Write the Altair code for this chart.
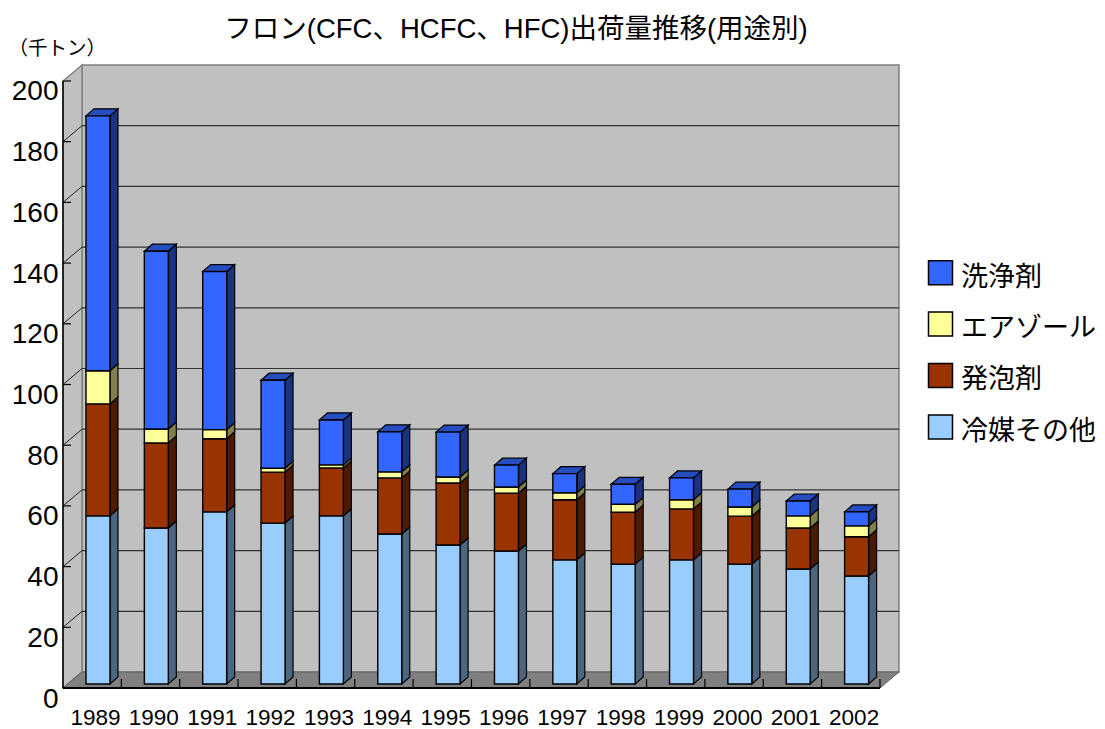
import altair as alt
import pandas as pd

years = ["1989","1990","1991","1992","1993","1994","1995","1996","1997","1998","1999","2000","2001","2002"]
series = ["冷媒その他", "発泡剤", "エアゾール", "洗浄剤"]
refrigerant = [55.4,51.4,56.7,53.0,55.4,49.4,45.8,43.8,40.9,39.5,40.9,39.5,37.9,35.6]
foam = [36.9,28.0,24.1,16.8,15.8,18.5,20.4,19.1,19.8,17.1,16.8,15.8,13.5,12.9]
aerosol = [10.9,4.6,3.0,1.3,1.0,2.0,2.0,2.0,2.3,2.6,3.0,3.0,4.0,3.6]
cleaning = [84.0,58.6,52.1,29.0,14.8,13.2,14.8,7.2,6.3,6.6,7.2,5.9,4.9,4.6]
values = [refrigerant, foam, aerosol, cleaning]
front_colors = ["#99CCFF", "#993300", "#FFFF99", "#3366FF"]
side_colors = ["#4D6680", "#4D1A00", "#80804D", "#1A3380"]
top_color = "#264DBF"
y_ticks = list(range(0, 201, 20))

# 3-D projection, in axis units
WALL_DX, WALL_DY = 0.326, 5.27
BAR_X0, BAR_W = 0.394, 0.411
BAR_DX, BAR_DY = 0.137, 2.3
BAR_BASE = 1.32
X_MAX, Y_MAX = 14 + WALL_DX, 205.27

FONT = "Liberation Sans, Noto Sans CJK JP"
xs = alt.Scale(domain=[0, X_MAX], nice=False, zero=False)
ys = alt.Scale(domain=[0, Y_MAX], nice=False, zero=False)
X = alt.X("x:Q", scale=xs, axis=None)
Y = alt.Y("y:Q", scale=ys, axis=None)
Y2 = alt.Y2("y2:Q")
X2 = alt.X2("x2:Q")

front, sides, tops = [], [], []
for i, year in enumerate(years):
    base = BAR_BASE
    x0 = i + BAR_X0
    for s, name in enumerate(series):
        v = values[s][i]
        front.append(dict(x=x0, x2=x0 + BAR_W, y=base, y2=base + v, series=name))
        for dx, dy in ((0, 0), (BAR_DX, BAR_DY)):
            sides.append(dict(x=x0 + BAR_W + dx, y=base + v + dy, y2=base + dy, seg=f"{year}-{s}", s=s))
        base += v
    for px, py, py2 in ((0, 0, 0), (BAR_DX, BAR_DY, 0), (BAR_W, BAR_DY, 0), (BAR_W + BAR_DX, BAR_DY, BAR_DY)):
        tops.append(dict(x=x0 + px, y=base + py, y2=base + py2, seg=year))
front, sides, tops = pd.DataFrame(front), pd.DataFrame(sides), pd.DataFrame(tops)

back_wall = pd.DataFrame([dict(x=WALL_DX, x2=X_MAX, y=WALL_DY, y2=Y_MAX)])
left_wall = pd.DataFrame([dict(x=0, y=200, y2=0), dict(x=WALL_DX, y=Y_MAX, y2=WALL_DY)])
floor = pd.DataFrame([dict(x=0, y=0, y2=0), dict(x=WALL_DX, y=WALL_DY, y2=0),
                      dict(x=14, y=WALL_DY, y2=0), dict(x=X_MAX, y=WALL_DY, y2=WALL_DY)])
grid = pd.DataFrame([dict(x=WALL_DX, x2=X_MAX, y=t + WALL_DY) for t in y_ticks[1:-1]])
diag = pd.DataFrame([r for t in y_ticks[1:-1] for r in
                     (dict(x=0, y=t, t=t), dict(x=WALL_DX, y=t + WALL_DY, t=t))])
ytick_df = pd.DataFrame([dict(x=0, x2=0.137, y=t) for t in y_ticks])
xtick_df = pd.DataFrame([dict(x=i, y=0, y2=3) for i in range(1, 15)])
axis_v = pd.DataFrame([dict(x=0, y=0, y2=200)])
axis_h = pd.DataFrame([dict(x=0, x2=14, y=0)])

label_lookup = "[" + ",".join(f"'{y}'" for y in years) + ",''][datum.value]"
axes_layer = alt.Chart(axis_h).mark_rule(color="black", strokeWidth=2).encode(
    x=alt.X("x:Q", scale=xs, axis=alt.Axis(
        values=list(range(15)), labelExpr=label_lookup, domain=False, ticks=False, grid=False,
        labelFontSize=22.5, labelFont=FONT, labelColor="black", labelPadding=18, labelOffset=32,
        labelOverlap=False, labelFlush=False, title=None)),
    x2=X2,
    y=alt.Y("y:Q", scale=ys, axis=alt.Axis(
        values=y_ticks, domain=False, ticks=False, grid=False,
        labelFontSize=28, labelFont=FONT, labelColor="black", labelPadding=5, labelOffset=11,
        labelOverlap=False, labelFlush=False,
        title="（千トン）", titleAngle=0, titleAlign="left", titleBaseline="middle",
        titleX=-55, titleY=-17, titleFontSize=19.5, titleFontWeight="normal", titleFont=FONT,
        titleColor="black")),
)

layers = [
    alt.Chart(back_wall).mark_rect(fill="#C0C0C0", stroke="#808080", strokeWidth=1.5).encode(x=X, x2=X2, y=Y, y2=Y2),
    alt.Chart(left_wall).mark_area(fill="#C0C0C0", stroke="#808080", strokeWidth=1.5).encode(x=X, y=Y, y2=Y2),
    alt.Chart(floor).mark_area(fill="#808080", stroke="#606060", strokeWidth=1).encode(x=X, y=Y, y2=Y2),
    alt.Chart(grid).mark_rule(color="#333333", strokeWidth=1.2).encode(x=X, x2=X2, y=Y),
    alt.Chart(diag).mark_line(color="#222222", strokeWidth=1).encode(x=X, y=Y, detail="t:N"),
]
for s in range(len(series)):
    layers.append(
        alt.Chart(sides[sides.s == s]).mark_area(fill=side_colors[s], stroke="black", strokeWidth=1.2)
        .encode(x=X, y=Y, y2=Y2, detail="seg:N"))
layers += [
    alt.Chart(tops).mark_area(fill=top_color, stroke="black", strokeWidth=1.2).encode(x=X, y=Y, y2=Y2, detail="seg:N"),
    alt.Chart(front).mark_rect(stroke="black", strokeWidth=1.4).encode(
        x=X, x2=X2, y=Y, y2=Y2,
        fill=alt.Fill("series:N",
                      scale=alt.Scale(domain=series[::-1], range=front_colors[::-1]),
                      legend=alt.Legend(
                          orient="none", legendX=864, legendY=199, title=None,
                          symbolType="M-1,-1.4H1V0.6H-1Z",
                          symbolSize=576, symbolStrokeColor="black", symbolStrokeWidth=1.5,
                          symbolOpacity=1, labelFontSize=27, labelFont=FONT, labelColor="black",
                          labelOffset=7, rowPadding=17.4, labelLimit=200))),
    alt.Chart(ytick_df).mark_rule(color="black", strokeWidth=1.2).encode(x=X, x2=X2, y=Y),
    alt.Chart(xtick_df).mark_rule(color="black", strokeWidth=1.2).encode(x=X, y=Y, y2=Y2),
    alt.Chart(axis_v).mark_rule(color="black", strokeWidth=1.5).encode(x=X, y=Y, y2=Y2),
    axes_layer,
]

chart = alt.layer(*layers).resolve_axis(x="independent", y="independent").properties(
    width=836, height=623,
    background="white",
    padding={"left": 55, "top": 57, "right": 198, "bottom": 41},
    autosize=alt.AutoSizeParams(type="none"),
    title=alt.TitleParams("フロン(CFC、HCFC、HFC)出荷量推移(用途別)", font=FONT, fontSize=27.5,
                          fontWeight="normal", color="black", anchor="middle", dx=35, offset=-5),
).configure_view(stroke=None)

chart.save("out.html", embed_options={"renderer": "svg", "actions": False})
